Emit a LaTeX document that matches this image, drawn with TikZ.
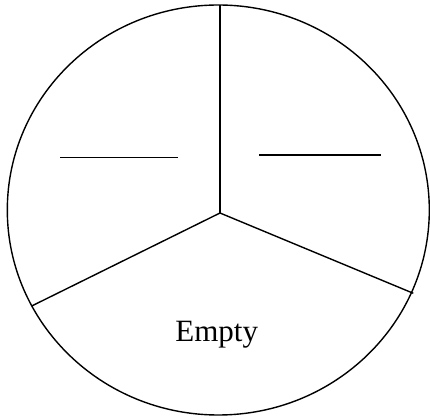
\documentclass[tikz,border=0pt]{standalone}
\usepackage{fontspec}
\setmainfont{Liberation Serif}
\begin{document}
\begin{tikzpicture}[x=1pt,y=1pt,
  outline/.style={line width=1.4pt, draw=black},
  spoke/.style={line width=1.4pt, draw=black},
  blank/.style={line width=1.4pt, draw=black},
  lbl/.style={font=\fontsize{31}{36}\selectfont, inner sep=0pt, anchor=base}]
\useasboundingbox (0,0) rectangle (430,417);
\draw[outline] (218.3,207) ellipse [x radius=211, y radius=205];
\coordinate (c) at (220,204);
\coordinate (top) at (220,411.8);
\coordinate (ll) at (31.7,111);
\coordinate (lr) at (413.3,123.7);
\draw[spoke] (c) -- (top);
\draw[spoke] (c) -- (ll);
\draw[spoke] (c) -- (lr);
\coordinate (b1a) at (60,259.3);
\coordinate (b1b) at (178.3,259.3);
\coordinate (b2a) at (259.3,262);
\coordinate (b2b) at (381,262);
\draw[blank] (b1a) -- (b1b);
\draw[blank] (b2a) -- (b2b);
\node[lbl] (empty) at (216.7,75.3) {Empty};
\end{tikzpicture}
\end{document}
